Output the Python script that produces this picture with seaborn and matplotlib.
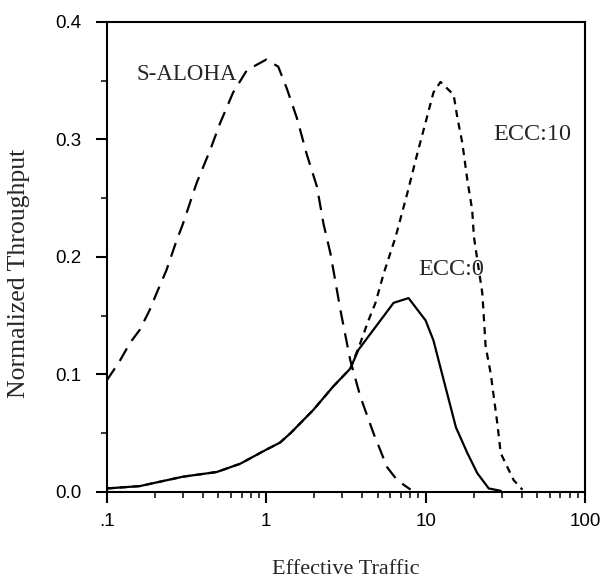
import matplotlib
matplotlib.use("Agg")
import matplotlib.pyplot as plt
import seaborn as sns
import numpy as np
import pandas as pd
from matplotlib.ticker import FixedLocator, FixedFormatter, MultipleLocator, LogLocator, NullFormatter

# ---- data ----
aloha_x = [0.1, 0.12, 0.14, 0.161, 0.186, 0.205, 0.237, 0.274, 0.30, 0.366, 0.445, 0.514, 0.62,
           0.757, 1.0, 1.19, 1.35, 1.56, 1.80, 2.08, 2.29, 2.53, 2.92, 3.37, 3.9, 4.71, 5.74, 6.64, 8.05]
aloha_y = [0.095, 0.111, 0.127, 0.138, 0.155, 0.169, 0.189, 0.214, 0.228, 0.263, 0.291, 0.314, 0.340,
           0.359, 0.368, 0.362, 0.343, 0.318, 0.287, 0.260, 0.228, 0.203, 0.155, 0.112, 0.081, 0.050, 0.021, 0.010, 0.002]

ecc0_x = [0.1, 0.161, 0.30, 0.49, 0.686, 1.0, 1.22, 1.42, 1.98, 2.64, 3.37, 3.79, 6.3, 7.82,
          10.0, 11.2, 13.0, 15.5, 18.3, 21.1, 24.9, 29.6]
ecc0_y = [0.003, 0.005, 0.013, 0.017, 0.024, 0.036, 0.042, 0.050, 0.070, 0.090, 0.105, 0.121, 0.161, 0.165,
          0.146, 0.129, 0.095, 0.055, 0.033, 0.016, 0.003, 0.001]

ecc10_x = [0.1, 0.161, 0.30, 0.49, 0.686, 1.0, 1.22, 1.42, 1.98, 2.64, 3.37, 3.9, 4.38, 4.85, 5.46,
           6.48, 7.67, 8.87, 10.2, 11.2, 12.4, 15.0, 15.8, 17.0, 18.3, 19.6, 20.1, 22.7, 23.8, 25.6,
           28.2, 29.6, 35.7, 40.5]
ecc10_y = [0.003, 0.005, 0.013, 0.017, 0.024, 0.036, 0.042, 0.050, 0.070, 0.090, 0.105, 0.127, 0.146, 0.161, 0.186,
           0.217, 0.254, 0.288, 0.319, 0.340, 0.349, 0.338, 0.319, 0.297, 0.265, 0.240, 0.217, 0.169, 0.124, 0.101,
           0.058, 0.033, 0.010, 0.002]

x_ticks = [0.1, 1, 10, 100]
x_tick_labels = [".1", "1", "10", "100"]
y_ticks = [0.0, 0.1, 0.2, 0.3, 0.4]
y_tick_labels = ["0.0", "0.1", "0.2", "0.3", "0.4"]

sns.set_style("ticks")
plt.rcParams['font.family'] = ['Liberation Sans', 'DejaVu Sans']

fig = plt.figure(figsize=(6.0, 5.88), dpi=100)
ax = fig.add_axes([0.178, 0.1633, 0.797, 0.7993])

serif = ['Liberation Serif', 'DejaVu Serif']

sns.lineplot(x=aloha_x, y=aloha_y, ax=ax, color='black', lw=1.6)
sns.lineplot(x=ecc0_x, y=ecc0_y, ax=ax, color='black', lw=1.6)
sns.lineplot(x=ecc10_x, y=ecc10_y, ax=ax, color='black', lw=1.6)
lines = ax.get_lines()
lines[0].set_linestyle((0, (6.5, 4)))
lines[1].set_linestyle('-')
lines[2].set_linestyle((0, (3.2, 2.6)))

ax.set_xscale('log')
ax.set_xlim(0.1, 100)
ax.set_ylim(0, 0.4)
ax.xaxis.set_major_locator(FixedLocator(x_ticks))
ax.xaxis.set_major_formatter(FixedFormatter(x_tick_labels))
ax.xaxis.set_minor_locator(LogLocator(base=10, subs=np.arange(2, 10)))
ax.xaxis.set_minor_formatter(NullFormatter())
ax.yaxis.set_major_locator(FixedLocator(y_ticks))
ax.yaxis.set_major_formatter(FixedFormatter(y_tick_labels))
ax.yaxis.set_minor_locator(MultipleLocator(0.05))

ax.tick_params(axis='both', which='major', direction='out', length=8, width=1.5, labelsize=13.5, colors='black')
ax.tick_params(axis='y', which='major', pad=10)
ax.tick_params(axis='x', which='major', pad=7)
ax.tick_params(axis='both', which='minor', direction='out', length=4, width=1.3)
ax.tick_params(top=False, right=False, which='both')

for s in ax.spines.values():
    s.set_linewidth(1.5)
    s.set_color('black')

ax.set_xlabel("Effective Traffic", fontsize=16, family=serif, labelpad=22)
ax.set_ylabel("Normalized Throughput", fontsize=18.5, family=serif)
ax.yaxis.set_label_coords(-0.16, 0.466)

ax.text(0.66, 0.355, "S-ALOHA", family=serif, fontsize=16.5, ha='right', va='center')
ax.text(26.4, 0.304, "ECC:10", family=serif, fontsize=17.5, ha='left', va='center')
ax.text(9.04, 0.189, "ECC:0", family=serif, fontsize=17.5, ha='left', va='center')

fig.savefig("out.png", dpi=100)
